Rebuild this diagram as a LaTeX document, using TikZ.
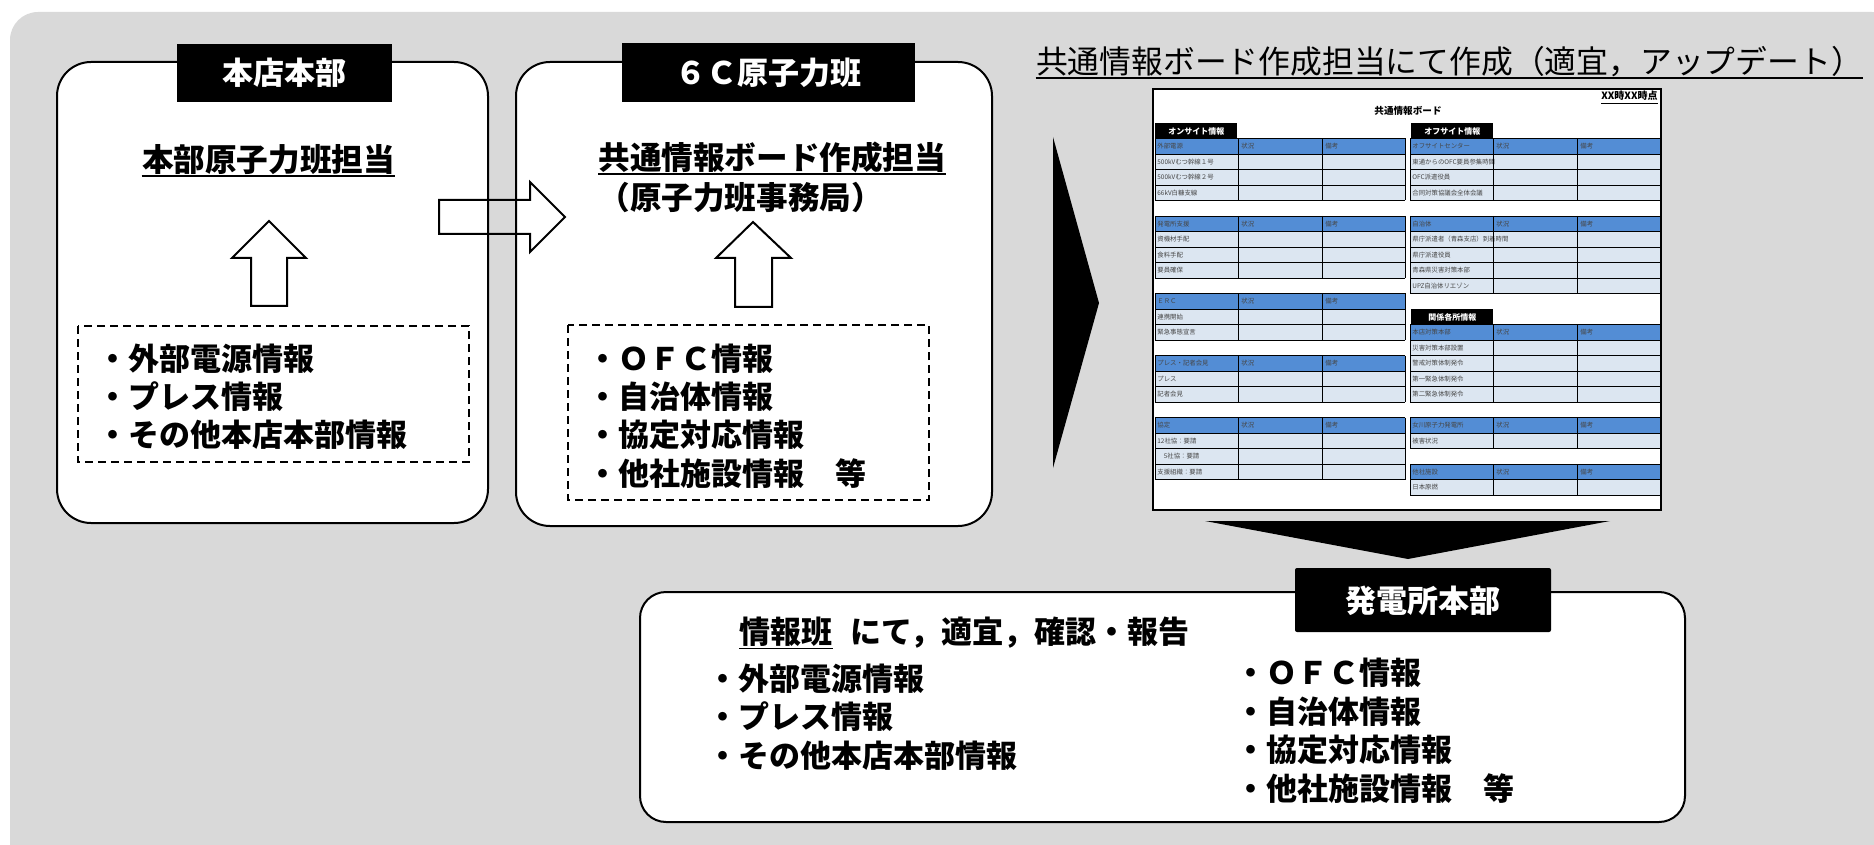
\documentclass[tikz,border=0pt]{standalone}
\usepackage{fontspec}
\setmainfont{Noto Sans CJK JP}
\usetikzlibrary{calc}

\definecolor{bggray}{RGB}{217,217,217}
\definecolor{headblue}{RGB}{83,141,213}
\definecolor{cellblue}{RGB}{220,230,241}
\definecolor{celltext}{RGB}{70,70,70}

\tikzset{
  panel/.style={draw, line width=1pt, fill=white, rounded corners=17pt},
  dashbox/.style={draw, line width=0.7pt, dash pattern=on 4pt off 2.5pt},
  blockarrow/.style={draw, line width=1pt, fill=white, line join=miter},
  tag/.style={fill=black, text=white, inner sep=0pt,
    font={\bfseries\fontsize{15.5pt}{18pt}\selectfont},
    text height=13pt, text depth=1pt},
  bigtxt/.style={inner sep=0pt, font={\bfseries\fontsize{15.8pt}{18pt}\selectfont},
    text height=13.2pt, text depth=1.1pt},
  listtxt/.style={anchor=west, inner sep=0pt,
    font={\bfseries\fontsize{15.5pt}{18pt}\selectfont},
    text height=13pt, text depth=1.1pt},
  uline/.style={line width=0.9pt},
  minitag/.style={fill=black, text=white, inner sep=0pt, anchor=north west,
    minimum width=41pt, minimum height=7.75pt,
    font={\bfseries\fontsize{4pt}{4.5pt}\selectfont}},
  celltxt/.style={anchor=west, inner sep=0pt, text=celltext,
    font={\fontsize{3.2pt}{3.6pt}\selectfont}},
  gridline/.style={line width=0.45pt}
}

% one table of the board: left x, first row, number of lines, header, body rows
\newcommand{\infotab}[5]{%
  \pgfmathsetmacro{\tabtop}{123+#2*15.5}
  \fill[headblue] (#1,\tabtop) rectangle ++(250,15.5);
  \fill[cellblue] (#1,\tabtop+15.5) rectangle ++(250,{(#3-1)*15.5});
  \node[celltxt] (t#1-#2) at (#1+2,\tabtop+7.75) {#4};
  \node[celltxt] (s#1-#2) at (#1+86,\tabtop+7.75) {状況};
  \node[celltxt] (b#1-#2) at (#1+170,\tabtop+7.75) {備考};
  \foreach [count=\k] \rowtxt in {#5}
    \node[celltxt] (r#1-#2-\k) at (#1+2,\tabtop+7.75+\k*15.5) {\rowtxt};
  \foreach \j in {0,...,#3}
    \draw[gridline] (#1,\tabtop+\j*15.5) -- ++(250,0);
  \foreach \cx in {0,83,167,250}
    \draw[gridline] (#1+\cx,\tabtop) -- ++(0,#3*15.5);
}

\begin{document}
\begin{tikzpicture}[x=0.5pt,y=-0.5pt]
\useasboundingbox (0,0) rectangle (1874,845);
\fill[bggray,rounded corners=14pt] (10,12) rectangle (1900,880);

% head office
\draw[panel] (57,62) rectangle (488,523);
\node[tag, minimum width=107.5pt, minimum height=29pt] (hq) at (284.5,73) {本店本部};
\node[bigtxt] (hqttl) at (268.5,159) {本部原子力班担当};
\draw[uline] ($(hqttl.south west)+(0,2)$) -- ($(hqttl.south east)+(0,2)$);
\draw[blockarrow] (269,221) -- (306,258) -- (287,258) -- (287,306) -- (251,306) -- (251,258) -- (232,258) -- cycle;
\draw[dashbox] (78,326) rectangle (469,462);
\foreach \t [count=\n] in {・外部電源情報, ・プレス情報, ・その他本店本部情報}
  \node[listtxt] (hqi\n) at (97,{321+\n*38}) {\t};

% 6C nuclear team
\draw[panel] (516,62) rectangle (992,526);
\node[tag, minimum width=146.5pt, minimum height=29.5pt] (sixc) at (768.5,72.5) {６Ｃ原子力班};
\node[bigtxt, anchor=west] (bdttl) at (598,157) {共通情報ボード作成担当};
\draw[uline] ($(bdttl.south west)+(0,2)$) -- ($(bdttl.south east)+(0,2)$);
\node[bigtxt, anchor=west] (jimu) at (598,197) {（原子力班事務局）};
\draw[blockarrow] (753,222) -- (791,258) -- (772,258) -- (772,307) -- (735,307) -- (735,258) -- (716,258) -- cycle;
\draw[dashbox] (568,325) rectangle (929,500);
\foreach \t [count=\n] in {・ＯＦＣ情報, ・自治体情報, ・協定対応情報, ・他社施設情報　等}
  \node[listtxt] (sci\n) at (587,{320+\n*38.3}) {\t};

% hand over
\draw[blockarrow, fill=none] (439,200) -- (530,200) -- (530,182) -- (565,217) -- (530,252) -- (530,234) -- (439,234) -- cycle;

% common board
\node[inner sep=0pt, font={\fontsize{15.9pt}{18pt}\selectfont},
  text height=13.2pt, text depth=1.1pt] (brdnote) at (1449.5,61)
  {共通情報ボード作成担当にて作成（適宜，アップデート）};
\draw[uline] ($(brdnote.south west)+(0,2)$) -- ($(brdnote.south east)+(0,2)$);
\fill (1053,137) -- (1053,468) -- (1099,303) -- cycle;
\draw[line width=1.3pt, fill=white] (1153,89) rectangle (1661,510);
\node[anchor=east, inner sep=0pt, font={\bfseries\fontsize{5pt}{5.5pt}\selectfont}]
  (stamp) at (1658,98) {\underline{XX時XX時点}};
\node[inner sep=0pt, font={\bfseries\fontsize{4.8pt}{5pt}\selectfont}]
  (brdttl) at (1408,111) {共通情報ボード};
\node[minitag] (onsite) at (1155,123) {オンサイト情報};
\node[minitag] (offsite) at (1411,123) {オフサイト情報};
\node[minitag] (related) at (1411,309) {関係各所情報};
\infotab{1155}{1}{4}{外部電源}{500kVむつ幹線１号,500kVむつ幹線２号,66kV白糠支線}
\infotab{1155}{6}{4}{発電所支援}{資機材手配,食料手配,要員確保}
\infotab{1155}{11}{3}{ＥＲＣ}{連携開始,緊急事態宣言}
\infotab{1155}{15}{3}{プレス・記者会見}{プレス,記者会見}
\infotab{1155}{19}{4}{協定}{12社協：要請,　5社協：要請,支援組織：要請}
\infotab{1410}{1}{4}{オフサイトセンター}{東通からのOFC要員参集時間,OFC派遣役員,合同対策協議会全体会議}
\infotab{1410}{6}{5}{自治体}{県庁派遣者（青森支店）到着時間,県庁派遣役員,青森県災害対策本部,UPZ自治体リエゾン}
\infotab{1410}{13}{5}{本店対策本部}{災害対策本部設置,警戒対策体制発令,第一緊急体制発令,第二緊急体制発令}
\infotab{1410}{19}{2}{女川原子力発電所}{被害状況}
\infotab{1410}{22}{2}{他社施設}{日本原燃}
\fill (1205,521) -- (1610,521) -- (1408,559) -- cycle;

% power station
\draw[panel, rounded corners=13pt] (640,592) rectangle (1685,822);
\node[tag, minimum width=128pt, minimum height=32pt, rounded corners=1pt] (ps) at (1423,600) {発電所本部};
\node[listtxt] (infoteam) at (739,632) {情報班};
\draw[uline] ($(infoteam.south west)+(0,2)$) -- ($(infoteam.south east)+(0,2)$);
\node[listtxt] (report) at (850,632) {にて，適宜，確認・報告};
\foreach \t [count=\n] in {・外部電源情報, ・プレス情報, ・その他本店本部情報}
  \node[listtxt] (psl\n) at (707,{640+\n*38.5}) {\t};
\foreach \t [count=\n] in {・ＯＦＣ情報, ・自治体情報, ・協定対応情報, ・他社施設情報　等}
  \node[listtxt] (psr\n) at (1235,{634.5+\n*38.5}) {\t};
\end{tikzpicture}
\end{document}
